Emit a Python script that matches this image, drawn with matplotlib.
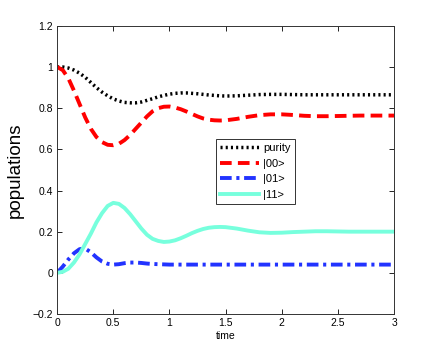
import matplotlib
matplotlib.use("Agg")
import matplotlib.pyplot as plt
import numpy as np

# time samples (dense early, sparser later)
t = [0.0, 0.05, 0.1, 0.15, 0.2, 0.25, 0.3, 0.35, 0.4, 0.45, 0.5, 0.55, 0.6, 0.65,
     0.7, 0.75, 0.8, 0.85, 0.9, 0.95, 1.0, 1.05, 1.1, 1.15, 1.2, 1.25, 1.3, 1.35,
     1.4, 1.45, 1.5, 1.6, 1.7, 1.8, 1.9, 2.0, 2.1, 2.2, 2.3, 2.4, 2.5, 2.6, 2.7,
     2.8, 2.9, 3.0]

purity = [1.0, 1.0, 0.995, 0.985, 0.97, 0.95, 0.925, 0.9, 0.878, 0.86, 0.845, 0.835,
          0.828, 0.826, 0.826, 0.83, 0.838, 0.846, 0.855, 0.862, 0.868, 0.872, 0.874,
          0.874, 0.872, 0.87, 0.867, 0.864, 0.862, 0.86, 0.859, 0.86, 0.863, 0.866,
          0.867, 0.867, 0.866, 0.865, 0.865, 0.865, 0.865, 0.865, 0.865, 0.865,
          0.865, 0.865]

p00 = [1.0, 0.985, 0.945, 0.885, 0.82, 0.755, 0.7, 0.66, 0.635, 0.622, 0.62, 0.627,
       0.645, 0.67, 0.7, 0.73, 0.76, 0.785, 0.8, 0.807, 0.808, 0.803, 0.795, 0.784,
       0.772, 0.76, 0.75, 0.744, 0.741, 0.74, 0.741, 0.748, 0.758, 0.766, 0.77, 0.77,
       0.767, 0.763, 0.761, 0.761, 0.762, 0.763, 0.764, 0.764, 0.764, 0.764]

p01 = [0.0, 0.03, 0.065, 0.095, 0.115, 0.118, 0.1, 0.075, 0.055, 0.044, 0.04, 0.042,
       0.047, 0.05, 0.05, 0.048, 0.045, 0.043, 0.042, 0.041, 0.04, 0.04, 0.04, 0.04,
       0.04, 0.04, 0.04, 0.04, 0.04, 0.04, 0.04, 0.04, 0.04, 0.04, 0.04, 0.04, 0.04,
       0.04, 0.04, 0.04, 0.04, 0.04, 0.04, 0.04, 0.04, 0.04]

p11 = [0.0, 0.005, 0.02, 0.05, 0.09, 0.14, 0.19, 0.245, 0.29, 0.325, 0.34, 0.335,
       0.315, 0.285, 0.25, 0.215, 0.185, 0.165, 0.155, 0.15, 0.152, 0.158, 0.168,
       0.18, 0.193, 0.204, 0.213, 0.219, 0.222, 0.223, 0.222, 0.215, 0.205, 0.197,
       0.194, 0.195, 0.198, 0.2, 0.202, 0.202, 0.201, 0.2, 0.2, 0.2, 0.2, 0.2]

labels = ["purity", "|00>", "|01>", "|11>"]

plt.rcParams['font.family'] = ['Liberation Sans', 'DejaVu Sans']

fig = plt.figure(figsize=(4.36, 3.54), dpi=100)
ax = fig.add_axes([0.131, 0.113, 0.773, 0.814])

ax.plot(t, purity, color='black', linestyle=(0, (0.6, 0.9)), lw=2.5, label=labels[0])
ax.plot(t, p00, color='red', linestyle=(0, (3, 1.6)), lw=2.8, label=labels[1])
ax.plot(t, p01, color='#2233ff', linestyle=(0, (3, 1.2, 0.8, 1.2)), lw=2.8, label=labels[2])
ax.plot(t, p11, color='#77ffdd', linestyle='-', lw=2.8, label=labels[3])

ax.set_xlim(0, 3)
ax.set_ylim(-0.2, 1.2)
ax.set_xticks([0, 0.5, 1, 1.5, 2, 2.5, 3])
ax.set_xticklabels(['0', '0.5', '1', '1.5', '2', '2.5', '3'])
ax.set_yticks([-0.2, 0, 0.2, 0.4, 0.6, 0.8, 1, 1.2])
ax.set_yticklabels(['\u22120.2', '0', '0.2', '0.4', '0.6', '0.8', '1', '1.2'])
ax.tick_params(direction='in', top=True, right=True, length=3.5, width=0.6,
               labelsize=7.5, pad=3)
for s in ax.spines.values():
    s.set_linewidth(0.7)
    s.set_color('#333333')

ax.set_xlabel('time', fontsize=7.5, labelpad=2)
ax.set_ylabel('populations', fontsize=13.5, labelpad=6)

leg = ax.legend(loc='upper left', bbox_to_anchor=(0.47, 0.608), fontsize=8,
                frameon=True, fancybox=False, edgecolor='black', handlelength=3.5,
                handletextpad=0.4, borderpad=0.4, labelspacing=0.5, borderaxespad=0)
leg.get_frame().set_linewidth(0.7)

fig.savefig('out.png', dpi=100)
